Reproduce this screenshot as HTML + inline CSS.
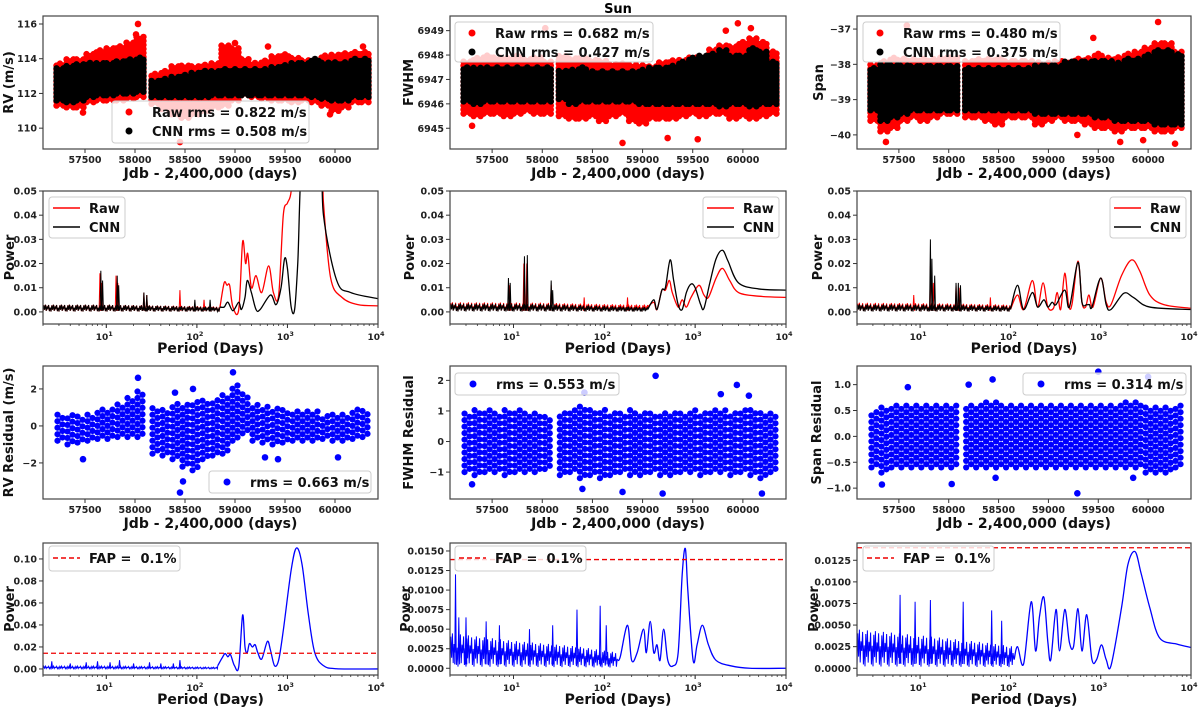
<!DOCTYPE html>
<html><head><meta charset="utf-8">
<style>
html,body{margin:0;padding:0;background:#fff;}
svg{display:block;font-family:"DejaVu Sans","Liberation Sans",sans-serif;}
</style></head>
<body>
<svg id="fig" width="1200" height="708" viewBox="0 0 1200 708" xmlns="http://www.w3.org/2000/svg">
<text x="618" y="13" text-anchor="middle" font-size="13" font-weight="bold">Sun</text>
</svg>
<script>
// ---------- time-series data (binned envelopes, 100-day bins) ----------
const tBins=[57250,57350,57450,57550,57650,57750,57850,57950,58050,58200,58300,58400,58500,58600,58700,58800,58900,59000,59100,59200,59300,59400,59500,59600,59700,59800,59900,60000,60100,60200,60300];
const rvRawLo=[111.3,111.2,111.2,111.5,111.6,111.6,111.6,111.7,111.8,111.4,111.1,110.8,110.6,110.8,111.0,111.2,111.3,111.6,111.9,111.8,111.7,111.6,111.6,111.5,111.6,111.5,111.3,111.0,111.2,111.5,111.5];
const rvRawHi=[113.8,114.0,114.0,114.3,114.5,114.6,114.8,115.0,115.3,113.2,113.4,113.6,113.6,113.6,113.7,113.8,114.8,114.6,114.0,113.8,113.9,114.2,114.3,114.1,114.0,114.0,114.2,114.3,114.4,114.4,114.4];
const rvCnnLo=[111.6,111.5,111.6,111.8,111.9,111.9,112.0,112.0,112.1,111.8,111.8,111.8,111.8,111.8,111.8,111.9,111.9,111.9,111.9,111.9,111.9,111.9,111.9,111.9,111.9,111.8,111.7,111.6,111.6,111.8,111.8];
const rvCnnHi=[113.5,113.6,113.7,113.8,113.8,113.8,113.9,114.0,114.1,112.8,112.9,113.0,113.1,113.2,113.3,113.3,113.5,113.4,113.4,113.5,113.5,113.6,113.7,113.8,113.8,114.0,113.8,113.8,113.9,114.0,114.0];
const rvRawOut=[[58030,116.0],[58450,109.2],[58010,115.4],[59000,114.9],[59330,114.7],[60280,114.7],[57480,110.9],[59950,110.8]];
const fwRawLo=[6945.6,6945.5,6945.6,6945.6,6945.5,6945.6,6945.7,6945.6,6945.6,6945.5,6945.4,6945.4,6945.5,6945.3,6945.5,6945.6,6945.3,6945.2,6945.4,6945.4,6945.4,6945.5,6945.6,6945.5,6945.6,6945.6,6945.4,6945.5,6945.4,6945.5,6945.6];
const fwRawHi=[6947.8,6947.9,6948.0,6947.9,6947.9,6948.0,6947.9,6947.9,6947.8,6948.0,6947.9,6947.9,6947.8,6947.8,6947.7,6947.7,6947.6,6947.6,6947.6,6947.7,6947.8,6947.8,6947.9,6948.0,6948.3,6948.4,6948.4,6948.6,6948.7,6948.6,6948.2];
const fwCnnLo=[6946.1,6946.0,6946.1,6946.1,6946.1,6946.1,6946.1,6946.1,6946.1,6946.2,6946.0,6946.1,6946.1,6946.1,6946.1,6946.1,6946.1,6946.0,6946.0,6946.0,6946.0,6946.0,6946.0,6946.0,6946.0,6945.9,6946.0,6946.0,6945.9,6946.0,6946.0];
const fwCnnHi=[6947.5,6947.5,6947.5,6947.5,6947.5,6947.5,6947.5,6947.5,6947.5,6947.4,6947.4,6947.5,6947.4,6947.4,6947.4,6947.4,6947.4,6947.4,6947.5,6947.5,6947.6,6947.8,6947.9,6948.0,6948.1,6948.2,6948.0,6948.0,6948.3,6948.2,6947.8];
const fwRawOut=[[58800,6944.4],[59250,6944.6],[59550,6944.55],[57300,6945.1],[59950,6949.3],[60080,6949.1],[58030,6949.1],[59830,6949.0]];
const spRawLo=[-39.6,-39.9,-39.8,-39.6,-39.5,-39.6,-39.5,-39.4,-39.4,-39.5,-39.5,-39.6,-39.7,-39.5,-39.5,-39.5,-39.7,-39.6,-39.5,-39.6,-39.6,-39.7,-39.8,-39.8,-39.9,-39.8,-39.8,-39.8,-39.9,-39.9,-39.8];
const spRawHi=[-38.0,-37.9,-37.8,-37.8,-37.8,-37.8,-37.8,-37.8,-37.8,-37.9,-37.8,-37.8,-37.8,-37.9,-37.9,-37.9,-37.9,-37.9,-37.9,-37.9,-37.8,-37.8,-37.7,-37.8,-37.8,-37.7,-37.6,-37.5,-37.4,-37.4,-37.6];
const spCnnLo=[-39.3,-39.6,-39.5,-39.4,-39.3,-39.3,-39.3,-39.3,-39.3,-39.3,-39.3,-39.3,-39.3,-39.3,-39.3,-39.3,-39.4,-39.4,-39.4,-39.4,-39.4,-39.4,-39.5,-39.5,-39.6,-39.6,-39.6,-39.6,-39.7,-39.7,-39.7];
const spCnnHi=[-38.1,-38.0,-38.0,-38.0,-38.0,-38.0,-38.0,-38.0,-38.0,-38.1,-38.1,-38.1,-38.1,-38.1,-38.1,-38.1,-38.0,-38.0,-38.0,-37.9,-37.9,-37.9,-37.9,-37.9,-37.9,-37.8,-37.8,-37.7,-37.6,-37.6,-37.7];
const spRawOut=[[57370,-40.2],[60270,-40.25],[59290,-40.0],[60100,-36.8],[57580,-36.9],[59720,-40.2],[59950,-40.15],[59450,-37.25]];
const rvResLo=[-0.8,-1.0,-0.9,-0.8,-0.7,-0.7,-0.6,-0.6,-0.6,-1.5,-1.6,-1.8,-2.2,-2.4,-1.8,-1.6,-1.5,-0.8,-0.4,-0.8,-0.9,-1.0,-0.9,-0.8,-0.8,-0.8,-0.7,-0.8,-0.8,-0.7,-0.6];
const rvResHi=[0.7,0.7,0.6,0.7,0.9,1.0,1.3,1.6,2.0,1.0,1.0,1.2,1.3,1.4,1.4,1.5,1.7,2.3,1.8,1.2,1.2,1.0,1.0,0.9,0.8,0.8,0.7,0.7,0.7,0.9,0.9];
const rvResOut=[[58450,-3.6],[58480,-3.0],[58980,2.9],[58030,2.6],[57480,-1.8],[59430,-1.8],[59300,-1.7],[60030,-1.7],[58580,2.0],[58400,1.8]];
const fwResLo=[-1.0,-1.1,-1.0,-1.0,-1.1,-1.0,-1.0,-1.0,-0.9,-1.1,-1.0,-1.2,-1.1,-1.2,-1.1,-1.0,-1.1,-1.1,-1.0,-1.1,-1.1,-1.0,-1.0,-1.1,-1.0,-1.0,-1.1,-1.0,-1.1,-1.2,-1.0];
const fwResHi=[1.0,1.1,1.1,1.0,1.1,1.1,1.0,1.0,0.9,1.0,1.1,1.2,1.1,1.1,1.0,1.0,1.1,1.0,1.0,1.0,1.0,1.0,1.1,1.0,1.1,1.1,1.0,1.1,1.1,1.0,1.0];
const fwResOut=[[59130,2.15],[59940,1.85],[60190,-1.7],[59200,-1.7],[57300,-1.4],[58400,-1.55],[58800,-1.65],[60060,1.5],[59780,1.55],[58420,1.6]];
const spResLo=[-0.6,-0.7,-0.6,-0.6,-0.6,-0.6,-0.6,-0.6,-0.6,-0.6,-0.6,-0.6,-0.6,-0.6,-0.6,-0.6,-0.6,-0.6,-0.6,-0.6,-0.6,-0.6,-0.6,-0.6,-0.6,-0.6,-0.6,-0.7,-0.7,-0.7,-0.6];
const spResHi=[0.5,0.6,0.6,0.6,0.6,0.6,0.6,0.6,0.6,0.6,0.6,0.7,0.7,0.6,0.6,0.6,0.6,0.6,0.6,0.6,0.6,0.6,0.6,0.6,0.6,0.7,0.7,0.6,0.6,0.6,0.6];
const spResOut=[[59500,1.25],[59290,-1.1],[58440,1.1],[60000,1.15],[57330,-0.93],[57590,0.95],[58030,-0.92],[58200,1.0],[58470,-0.8],[59850,-0.8]];

// ---------- periodogram data ----------
const gl_rawNoiseP=[2,10,50,180], gl_rawNoiseH=[0.003,0.003,0.0026,0.0022];
const gl_rawSpikeP=[8.5,8.9,12.8,13.4,26,28,65,120], gl_rawSpikeH=[0.016,0.012,0.015,0.012,0.008,0.007,0.009,0.005];
const gl_rawP=[180,200,215,230,250,290,320,345,365,400,450,520,620,700,800,900,1000,1100,1200,2300,2500,3000,4000,6000,10000];
const gl_rawY=[0.002,0.012,0.011,0.011,0.002,0.001,0.029,0.020,0.024,0.010,0.015,0.008,0.019,0.008,0.007,0.040,0.045,0.05,0.07,0.07,0.045,0.014,0.006,0.003,0.0025];
const gl_cnnNoiseP=[2,10,50,180], gl_cnnNoiseH=[0.003,0.003,0.0025,0.002];
const gl_cnnSpikeP=[8.7,9.1,13.2,13.7,26,28,95,140], gl_cnnSpikeH=[0.017,0.013,0.015,0.011,0.008,0.007,0.005,0.005];
const gl_cnnP=[180,200,220,250,290,310,340,360,400,450,500,650,750,850,930,1000,1100,1200,1300,1500,2300,2500,3500,5000,10000];
const gl_cnnY=[0.002,0.002,0.004,0.0005,0.004,0.001,0.006,0.013,0.008,0.001,0.001,0.007,0.003,0.010,0.022,0.018,0.002,0.001,0.02,0.07,0.07,0.04,0.013,0.008,0.0055];
const gm_rawNoiseP=[2,20,100,300], gm_rawNoiseH=[0.004,0.0038,0.0032,0.003];
const gm_rawSpikeP=[9,13,14,26,60,180], gm_rawSpikeH=[0.011,0.02,0.02,0.011,0.006,0.006];
const gm_rawP=[300,350,380,430,470,520,560,650,720,800,900,1100,1250,1400,1700,2000,2400,3000,5000,10000];
const gm_rawY=[0.002,0.004,0.001,0.009,0.009,0.013,0.008,0.002,0.005,0.002,0.006,0.011,0.007,0.006,0.014,0.018,0.013,0.008,0.0065,0.006];
const gm_cnnNoiseP=[2,20,100,300], gm_cnnNoiseH=[0.0035,0.0033,0.0025,0.002];
const gm_cnnSpikeP=[8.8,9.2,13.2,14.2,26,27], gm_cnnSpikeH=[0.014,0.012,0.023,0.0235,0.013,0.009];
const gm_cnnP=[300,350,380,430,470,530,580,650,720,800,900,1000,1150,1250,1450,1700,2000,2300,3000,5000,10000];
const gm_cnnY=[0.001,0.005,0.001,0.009,0.010,0.0215,0.013,0.003,0.001,0.008,0.0115,0.010,0.003,0.0015,0.012,0.022,0.0255,0.021,0.012,0.0095,0.009];
const gr_rawNoiseP=[2,20,100], gr_rawNoiseH=[0.0038,0.0035,0.003];
const gr_rawSpikeP=[8.5,13,14,25,27,60], gr_rawSpikeH=[0.007,0.019,0.012,0.011,0.010,0.006];
const gr_rawP=[100,120,140,175,200,230,260,300,330,360,400,440,480,560,620,680,740,820,1000,1150,1300,1700,2200,2700,3500,5000,10000];
const gr_rawY=[0.001,0.007,0.001,0.013,0.002,0.012,0.002,0.0015,0.008,0.001,0.016,0.003,0.003,0.021,0.004,0.002,0.007,0.002,0.014,0.004,0.003,0.015,0.0215,0.017,0.007,0.003,0.0015];
const gr_cnnNoiseP=[2,20,100], gr_cnnNoiseH=[0.0032,0.003,0.0025];
const gr_cnnSpikeP=[13,13.5,14.5,25,26.5,28], gr_cnnSpikeH=[0.030,0.022,0.015,0.012,0.012,0.011];
const gr_cnnP=[100,120,140,175,200,235,260,290,320,400,450,560,620,700,750,800,1000,1150,1300,1800,2300,3500,10000];
const gr_cnnY=[0.001,0.011,0.001,0.008,0.002,0.005,0.002,0.004,0.003,0.009,0.002,0.0205,0.004,0.003,0.003,0.002,0.014,0.003,0.001,0.0077,0.006,0.002,0.001];
const bl_noiseP=[2,10,50,170], bl_noiseH=[0.0025,0.0025,0.002,0.0015];
const bl_spikeP=[2.5,4,6,8,11,14,20,30,40,55,65], bl_spikeH=[0.007,0.005,0.006,0.007,0.006,0.008,0.005,0.006,0.005,0.005,0.008];
const bl_P=[170,190,205,220,235,260,290,320,340,360,380,410,440,470,520,600,650,720,800,900,1100,1260,1450,1700,2000,2500,3500,10000];
const bl_Y=[0.003,0.010,0.014,0.011,0.013,0.003,0.002,0.049,0.020,0.015,0.023,0.020,0.022,0.015,0.009,0.025,0.017,0.003,0.008,0.035,0.09,0.11,0.095,0.05,0.015,0.003,0.0002,0.0];
const bm_noiseP=[2,10,50,140], bm_noiseH=[0.0045,0.0035,0.0028,0.002];
const bm_spikeP=[2.3,2.5,3,5,7,15,27,50,90,105], bm_spikeH=[0.012,0.0065,0.0065,0.006,0.0055,0.005,0.0055,0.0075,0.008,0.0055];
const bm_P=[140,150,180,200,230,270,290,320,350,380,410,450,500,570,650,720,780,830,950,1050,1200,1400,1700,2500,4000,10000];
const bm_Y=[0.001,0.0015,0.0055,0.001,0.002,0.005,0.002,0.006,0.002,0.003,0.001,0.005,0.001,0.0003,0.002,0.012,0.0153,0.010,0.001,0.003,0.0055,0.003,0.001,0.0003,0.0,0.0];
const br_noiseP=[2,10,50,110], br_noiseH=[0.0045,0.0038,0.003,0.0025];
const br_spikeP=[6,8.8,13,30,62,80], br_spikeH=[0.0085,0.0077,0.0079,0.0077,0.0067,0.0055];
const br_P=[110,120,140,170,190,210,235,260,280,320,350,400,450,500,560,620,700,800,900,1020,1150,1300,1700,2000,2400,2800,3500,4500,7000,10000];
const br_Y=[0.001,0.0025,0.0005,0.0077,0.002,0.006,0.0082,0.003,0.001,0.0068,0.002,0.0068,0.003,0.0025,0.0069,0.002,0.0062,0.001,0.001,0.0027,0.001,0.0003,0.007,0.012,0.0135,0.011,0.007,0.0035,0.0028,0.0024];
const fapLevels=[0.0143,0.0139,0.01395];

// ---------- helpers ----------
const NS="http://www.w3.org/2000/svg";
const svg=document.getElementById('fig');
function el(tag,attrs,parent){const e=document.createElementNS(NS,tag);for(const k in attrs)e.setAttribute(k,attrs[k]);(parent||svg).appendChild(e);return e;}
const COLS=[[43,378],[450,786],[857,1191]];
const ROWS=[[16,149],[191,324],[366,499],[543,675]];
const TLIM=[57080,60430];
function linX(c){return t=>COLS[c][0]+(t-TLIM[0])/(TLIM[1]-TLIM[0])*(COLS[c][1]-COLS[c][0]);}
function logX(c){const a=Math.log10(2),b=4;return p=>COLS[c][0]+(Math.log10(p)-a)/(b-a)*(COLS[c][1]-COLS[c][0]);}
function linY(r,lo,hi){return v=>ROWS[r][1]-(v-lo)/(hi-lo)*(ROWS[r][1]-ROWS[r][0]);}
function interpLog(P,H,p){const lp=Math.log10(p);for(let i=0;i<P.length-1;i++){const a=Math.log10(P[i]),b=Math.log10(P[i+1]);if(lp>=a&&lp<=b){const f=(lp-a)/(b-a);return H[i]+f*(H[i+1]-H[i]);}}return H[H.length-1];}
let clipN=0;
function panel(c,r,name){
  const g=el('g',{});
  
  
  const id='clip'+(clipN++);
  const cp=el('clipPath',{id:id},g);
  el('rect',{x:COLS[c][0],y:ROWS[r][0],width:COLS[c][1]-COLS[c][0],height:ROWS[r][1]-ROWS[r][0]},cp);
  const plot=el('g',{'clip-path':'url(#'+id+')'},g);
  return {g,plot};
}
function frame(g,c,r){
  const f=el('rect',{x:COLS[c][0],y:ROWS[r][0],width:COLS[c][1]-COLS[c][0],height:ROWS[r][1]-ROWS[r][0],fill:'none',stroke:'#444','stroke-width':1.2},g);
  
  
}
function yTicks(g,c,r,Y,vals,labels){
  vals.forEach((v,i)=>{const y=Y(v);
    el('line',{x1:COLS[c][0]-4,x2:COLS[c][0],y1:y,y2:y,stroke:'#333','stroke-width':1},g);
    const t=el('text',{x:COLS[c][0]-6,y:y+3.5,'text-anchor':'end','font-size':9.5,'font-weight':'bold',fill:'#222'},g);
    t.textContent=labels[i];
    
    
  });
}
function timeXTicks(g,c,r,X){
  [57500,58000,58500,59000,59500,60000].forEach(v=>{const x=X(v);
    el('line',{x1:x,x2:x,y1:ROWS[r][1],y2:ROWS[r][1]+4,stroke:'#333'},g);
    const t=el('text',{x:x,y:ROWS[r][1]+14,'text-anchor':'middle','font-size':9.5,'font-weight':'bold',fill:'#222'},g);
    t.textContent=String(v);
    
    
  });
}
function logXTicks(g,c,r,X){
  for(let d=0;d<4;d++)for(let m=1;m<10;m++){const p=m*Math.pow(10,d);if(p<2)continue;const x=X(p);
    el('line',{x1:x,x2:x,y1:ROWS[r][1],y2:ROWS[r][1]+(m===1?4:2),stroke:'#333','stroke-width':0.8},g);}
  [1,2,3,4].forEach(e=>{const x=X(Math.pow(10,e));
    el('line',{x1:x,x2:x,y1:ROWS[r][1],y2:ROWS[r][1]+4,stroke:'#333'},g);
    const t=el('text',{x:x-2,y:ROWS[r][1]+16,'text-anchor':'middle','font-size':9,'font-weight':'bold',fill:'#222'},g);
    t.textContent='10';
    const s=el('tspan',{dy:-4,'font-size':6.5},t);s.textContent=String(e);
    
    
  });
}
function xLabel(g,c,r,txt){
  const t=el('text',{x:(COLS[c][0]+COLS[c][1])/2,y:ROWS[r][1]+29,'text-anchor':'middle','font-size':14,'font-weight':'bold',fill:'#111'},g);
  t.textContent=txt;
  
  
}
function yLabel(g,x,r,txt){
  const cy=(ROWS[r][0]+ROWS[r][1])/2;
  const t=el('text',{x:x,y:cy,'text-anchor':'middle','font-size':13,'font-weight':'bold',fill:'#111',transform:'rotate(-90 '+x+' '+cy+')'},g);
  t.textContent=txt;
  
  
}
function band(plot,X,Y,lo,hi,color,opts){
  const offs=opts.offs, step=opts.step, rad=opts.r;
  const grp=el('g',{fill:color},plot);
  
  
  tBins.forEach((t,i)=>{
    const x0=X(t), ytop=Y(hi[i]), ybot=Y(lo[i]);
    offs.forEach((o,k)=>{
      for(let y=ybot-(k%2)*step/2;y>=ytop;y-=step){el('circle',{cx:x0+o,cy:y,r:rad},grp);}
    });
  });
}
function outliers(plot,X,Y,pts,color,rad){
  pts.forEach(p=>{const d=el('circle',{cx:X(p[0]),cy:Y(p[1]),r:rad,fill:color},plot);
    
    });
}
function legendBox(g,x,y,w,h){
  const b=el('rect',{x:x,y:y,width:w,height:h,rx:3,fill:'#fff','fill-opacity':0.8,stroke:'#ccc','stroke-width':1},g);
  
  
}
function legendText(g,x,y,txt){
  const t=el('text',{x:x,y:y+5,'font-size':13,'font-weight':'bold',fill:'#111'},g);
  t.textContent=txt;
  
  
}
function cr(pts){
  let d='M'+pts[0][0].toFixed(2)+','+pts[0][1].toFixed(2);
  for(let i=0;i<pts.length-1;i++){
    const p0=pts[i-1]||pts[i],p1=pts[i],p2=pts[i+1],p3=pts[i+2]||p2;
    const c1=[p1[0]+(p2[0]-p0[0])/6,p1[1]+(p2[1]-p0[1])/6],c2=[p2[0]-(p3[0]-p1[0])/6,p2[1]-(p3[1]-p1[1])/6];
    d+='C'+c1[0].toFixed(2)+','+c1[1].toFixed(2)+' '+c2[0].toFixed(2)+','+c2[1].toFixed(2)+' '+p2[0].toFixed(2)+','+p2[1].toFixed(2);
  }
  return d;
}
function invX(X,x){const a=X(2),b=X(10000);return Math.pow(10,Math.log10(2)+(x-a)/(b-a)*(4-Math.log10(2)));}
function periodLine(plot,X,Y,nP,nH,sP,sH,P,V,color,name){
  const grp=el('g',{},plot);
  
  
  let pts=[];const x0=X(nP[0]),x1=X(nP[nP.length-1]);
  let k=0;
  for(let x=x0;x<=x1;x+=0.8){
    const per=invX(X,x);
    const h=interpLog(nP,nH,per);
    const f=[0.05,0.9,0.3,1.0,0.15,0.7,0.45,0.95,0.1,0.6][k%10];k++;
    pts.push(x.toFixed(2)+','+Y(h*f).toFixed(2));
  }
  pts.push(X(P[0]).toFixed(2)+','+Y(V[0]).toFixed(2));
  el('polyline',{points:pts.join(' '),fill:'none',stroke:color,'stroke-width':1},grp);
  sP.forEach((p,i)=>{const x=X(p);
    el('polyline',{points:(x-0.8)+','+Y(0.0005)+' '+x+','+Y(sH[i])+' '+(x+0.8)+','+Y(0.0005),fill:'none',stroke:color,'stroke-width':1},grp);});
  el('path',{d:cr(P.map((p,i)=>[X(p),Y(V[i])])),fill:'none',stroke:color,'stroke-width':1.3},grp);
}

// ---------- Row 1 ----------
const ts=[
 {c:0,lim:[108.8,116.46],raw:[rvRawLo,rvRawHi],cnn:[rvCnnLo,rvCnnHi],out:rvRawOut,ticks:[110,112,114,116],lab:['110','112','114','116'],yl:'RV (m/s)',ylx:13,leg:[112,101,197,42],txt:['Raw rms = 0.822 m/s','CNN rms = 0.508 m/s'],name:'rv-panel'},
 {c:1,lim:[6944.15,6949.6],raw:[fwRawLo,fwRawHi],cnn:[fwCnnLo,fwCnnHi],out:fwRawOut,ticks:[6945,6946,6947,6948,6949],lab:['6945','6946','6947','6948','6949'],yl:'FWHM',ylx:413,leg:[455,22,198,40],txt:['Raw rms = 0.682 m/s','CNN rms = 0.427 m/s'],name:'fwhm-panel'},
 {c:2,lim:[-40.4,-36.63],raw:[spRawLo,spRawHi],cnn:[spCnnLo,spCnnHi],out:spRawOut,ticks:[-40,-39,-38,-37],lab:['\u221240','\u221239','\u221238','\u221237'],yl:'Span',ylx:823,leg:[863,22,197,40],txt:['Raw rms = 0.480 m/s','CNN rms = 0.375 m/s'],name:'span-panel'}
];
ts.forEach(o=>{
  const {g,plot}=panel(o.c,0,o.name);
  const X=linX(o.c),Y=linY(0,o.lim[0],o.lim[1]);
  band(plot,X,Y,o.raw[0],o.raw[1],'#f00',{offs:[-3.5,0,3.5],step:4,r:3.2,name:'raw-series'});
  outliers(plot,X,Y,o.out,'#f00',3.3);
  band(plot,X,Y,o.cnn[0],o.cnn[1],'#000',{offs:[-3.5,0,3.5],step:4,r:3.2,name:'cnn-series'});
  frame(g,o.c,0);yTicks(g,o.c,0,Y,o.ticks,o.lab);timeXTicks(g,o.c,0,X);
  xLabel(g,o.c,0,'Jdb - 2,400,000 (days)');yLabel(g,o.ylx,0,o.yl);
  const [lx,ly,lw,lh]=o.leg;legendBox(g,lx,ly,lw,lh);
  el('circle',{cx:lx+17,cy:ly+11,r:3.5,fill:'#f00'},g);
  el('circle',{cx:lx+17,cy:ly+30,r:3.5,fill:'#000'},g);
  legendText(g,lx+40,ly+11,o.txt[0]);legendText(g,lx+40,ly+30,o.txt[1]);
});

// ---------- Row 2 ----------
const pg=[
 {c:0,raw:[gl_rawNoiseP,gl_rawNoiseH,gl_rawSpikeP,gl_rawSpikeH,gl_rawP,gl_rawY],cnn:[gl_cnnNoiseP,gl_cnnNoiseH,gl_cnnSpikeP,gl_cnnSpikeH,gl_cnnP,gl_cnnY],leg:[49,197],name:'rv-periodogram'},
 {c:1,raw:[gm_rawNoiseP,gm_rawNoiseH,gm_rawSpikeP,gm_rawSpikeH,gm_rawP,gm_rawY],cnn:[gm_cnnNoiseP,gm_cnnNoiseH,gm_cnnSpikeP,gm_cnnSpikeH,gm_cnnP,gm_cnnY],leg:[703,197],name:'fwhm-periodogram'},
 {c:2,raw:[gr_rawNoiseP,gr_rawNoiseH,gr_rawSpikeP,gr_rawSpikeH,gr_rawP,gr_rawY],cnn:[gr_cnnNoiseP,gr_cnnNoiseH,gr_cnnSpikeP,gr_cnnSpikeH,gr_cnnP,gr_cnnY],leg:[1110,197],name:'span-periodogram'}
];
const plX=[10,410,818];
pg.forEach(o=>{
  const {g,plot}=panel(o.c,1,o.name);
  const X=logX(o.c),Y=linY(1,-0.005,0.05);
  periodLine(plot,X,Y,...o.raw,'#f00','raw-line');
  periodLine(plot,X,Y,...o.cnn,'#000','cnn-line');
  frame(g,o.c,1);
  yTicks(g,o.c,1,Y,[0,0.01,0.02,0.03,0.04,0.05],['0.00','0.01','0.02','0.03','0.04','0.05']);
  logXTicks(g,o.c,1,X);xLabel(g,o.c,1,'Period (Days)');yLabel(g,plX[o.c]+4,1,'Power');
  const [lx,ly]=o.leg;legendBox(g,lx,ly,76,41);
  el('line',{x1:lx+4,x2:lx+31,y1:ly+11,y2:ly+11,stroke:'#f00','stroke-width':1.5},g);
  el('line',{x1:lx+4,x2:lx+31,y1:ly+30,y2:ly+30,stroke:'#000','stroke-width':1.5},g);
  legendText(g,lx+40,ly+11,'Raw');legendText(g,lx+40,ly+30,'CNN');
});

// ---------- Row 3 ----------
const rs=[
 {c:0,lim:[-3.95,3.24],lo:rvResLo,hi:rvResHi,out:rvResOut,ticks:[-2,0,2],lab:['\u22122','0','2'],yl:'RV Residual (m/s)',leg:[209,471,162],txt:'rms = 0.663 m/s',name:'rv-residual-panel'},
 {c:1,lim:[-1.88,2.47],lo:fwResLo,hi:fwResHi,out:fwResOut,ticks:[-1,0,1,2],lab:['\u22121','0','1','2'],yl:'FWHM Residual',leg:[455,373,164],txt:'rms = 0.553 m/s',name:'fwhm-residual-panel'},
 {c:2,lim:[-1.21,1.36],lo:spResLo,hi:spResHi,out:spResOut,ticks:[-1,-0.5,0,0.5,1],lab:['\u22121.0','\u22120.5','0.0','0.5','1.0'],yl:'Span Residual',leg:[1023,373,163],txt:'rms = 0.314 m/s',name:'span-residual-panel'}
];
rs.forEach(o=>{
  const {g,plot}=panel(o.c,2,o.name);
  const X=linX(o.c),Y=linY(2,o.lim[0],o.lim[1]);
  band(plot,X,Y,o.lo,o.hi,'#00f',{offs:[-2.5,2.5],step:6.5,r:3.1,name:'residual-series'});
  outliers(plot,X,Y,o.out,'#00f',3.3);
  frame(g,o.c,2);yTicks(g,o.c,2,Y,o.ticks,o.lab);timeXTicks(g,o.c,2,X);
  xLabel(g,o.c,2,'Jdb - 2,400,000 (days)');yLabel(g,plX[o.c]+3,2,o.yl);
  const [lx,ly,lw]=o.leg;legendBox(g,lx,ly,lw,22);
  el('circle',{cx:lx+18,cy:ly+11,r:3.5,fill:'#00f'},g);
  legendText(g,lx+41,ly+11,o.txt);
});

// ---------- Row 4 ----------
const rp=[
 {c:0,lim:[-0.0055,0.1145],d:[bl_noiseP,bl_noiseH,bl_spikeP,bl_spikeH,bl_P,bl_Y],ticks:[0,0.02,0.04,0.06,0.08,0.10],lab:['0.00','0.02','0.04','0.06','0.08','0.10'],leg:49,name:'rv-residual-periodogram'},
 {c:1,lim:[-0.00086,0.01602],d:[bm_noiseP,bm_noiseH,bm_spikeP,bm_spikeH,bm_P,bm_Y],ticks:[0,0.0025,0.005,0.0075,0.01,0.0125,0.015],lab:['0.0000','0.0025','0.0050','0.0075','0.0100','0.0125','0.0150'],leg:455,name:'fwhm-residual-periodogram'},
 {c:2,lim:[-0.00078,0.0145],d:[br_noiseP,br_noiseH,br_spikeP,br_spikeH,br_P,br_Y],ticks:[0,0.0025,0.005,0.0075,0.01,0.0125],lab:['0.0000','0.0025','0.0050','0.0075','0.0100','0.0125'],leg:863,name:'span-residual-periodogram'}
];
rp.forEach(o=>{
  const {g,plot}=panel(o.c,3,o.name);
  const X=logX(o.c),Y=linY(3,o.lim[0],o.lim[1]);
  periodLine(plot,X,Y,...o.d,'#00f','residual-power-line');
  const fy=Y(fapLevels[o.c]);
  const fl=el('line',{x1:COLS[o.c][0],x2:COLS[o.c][1],y1:fy,y2:fy,stroke:'#e00','stroke-width':1.3,'stroke-dasharray':'5,3'},plot);
  
  
  frame(g,o.c,3);yTicks(g,o.c,3,Y,o.ticks,o.lab);logXTicks(g,o.c,3,X);
  xLabel(g,o.c,3,'Period (Days)');yLabel(g,plX[o.c]+(o.c===0?4:0),3,'Power');
  legendBox(g,o.leg,546,131,25);
  el('line',{x1:o.leg+4,x2:o.leg+31,y1:558,y2:558,stroke:'#e00','stroke-width':1.5,'stroke-dasharray':'5,3'},g);
  legendText(g,o.leg+40,558,'FAP =\u00a0 0.1%');
});
</script>
</body></html>
